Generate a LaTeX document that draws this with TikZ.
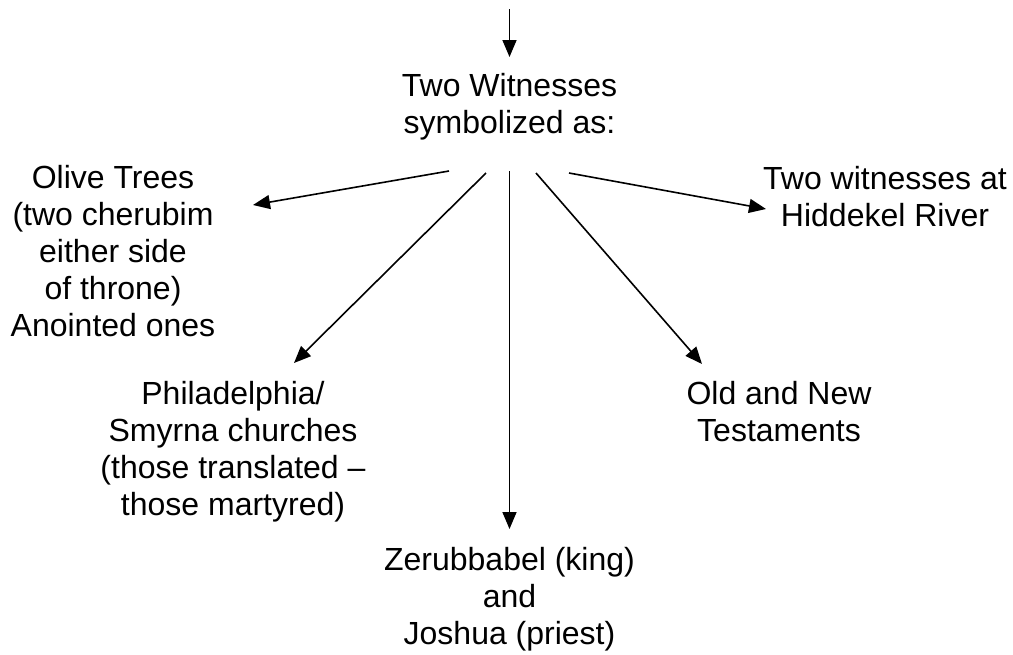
\documentclass[tikz,border=0pt]{standalone}
\usepackage{fontspec}
\setmainfont{Liberation Sans}
\usetikzlibrary{arrows.meta}
\begin{document}
\begin{tikzpicture}[x=1pt,y=1pt,
  lbl/.style={align=center,inner sep=0pt,anchor=base,font=\fontsize{32}{37}\selectfont},
  arr/.style={-{Triangle[length=17pt,width=14pt]},line width=1.6pt}]
\useasboundingbox (0,0) rectangle (1013,-654);
\node[lbl] (src) at (509.5,-133) {Two Witnesses\\symbolized as:};
\node[lbl] (olive) at (113,-336) {Olive Trees\\(two cherubim\\either side\\of throne)\\Anointed ones};
\node[lbl] (hid) at (885,-226) {Two witnesses at\\Hiddekel River};
\node[lbl] (phil) at (233,-515) {Philadelphia/\\Smyrna churches\\(those translated \textendash\\those martyred)};
\node[lbl] (old) at (779,-441) {Old and New\\Testaments};
\node[lbl] (zer) at (509.5,-644) {Zerubbabel (king)\\and\\Joshua (priest)};
\coordinate (topin) at (509.5,-9);
\draw[arr] (topin) -- ([yshift=76pt]src.base);
\draw[arr] ([shift={(-60.5,-38)}]src.base) -- ([shift={(140,131)}]olive.base);
\draw[arr] ([shift={(-23.5,-40)}]src.base) -- ([shift={(61,152)}]phil.base);
\draw[arr] ([shift={(0,-38)}]src.base) -- ([shift={(0,115)}]zer.base);
\draw[arr] ([shift={(26.5,-40)}]src.base) -- ([shift={(-77,77)}]old.base);
\draw[arr] ([shift={(59.5,-40)}]src.base) -- ([shift={(-119,17)}]hid.base);
\end{tikzpicture}
\end{document}
